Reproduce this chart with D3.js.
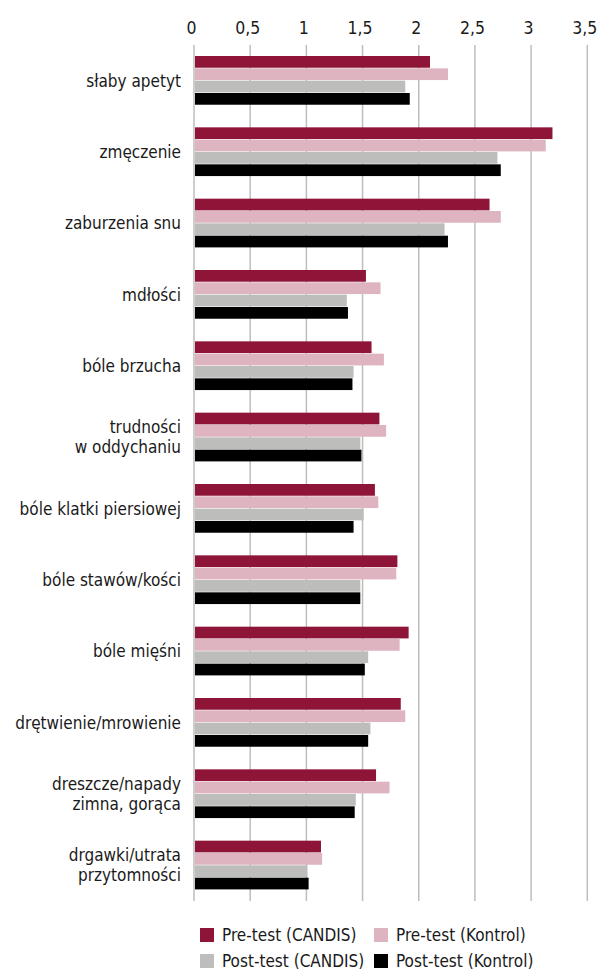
<!DOCTYPE html>
<html><head><meta charset="utf-8">
<script src="https://cdn.jsdelivr.net/npm/d3@7"></script>
<style>
html,body{margin:0;padding:0;background:#fff;}
svg text{font-family:"Liberation Sans Narrow","DejaVu Sans Condensed",sans-serif;fill:#1a1a1a;}
</style></head>
<body>
<script>
const categories = [
  ["słaby apetyt"],
  ["zmęczenie"],
  ["zaburzenia snu"],
  ["mdłości"],
  ["bóle brzucha"],
  ["trudności","w oddychaniu"],
  ["bóle klatki piersiowej"],
  ["bóle stawów/kości"],
  ["bóle mięśni"],
  ["drętwienie/mrowienie"],
  ["dreszcze/napady","zimna, gorąca"],
  ["drgawki/utrata","przytomności"]
];
const seriesNames = ["Pre-test (CANDIS)","Pre-test (Kontrol)","Post-test (CANDIS)","Post-test (Kontrol)"];
const seriesColors = ["#8E1538","#DDB4BF","#BDBDBB","#000000"];
const preCandis   = [2.10,3.19,2.63,1.53,1.58,1.65,1.61,1.81,1.91,1.84,1.62,1.13];
const preKontrol  = [2.26,3.13,2.73,1.66,1.69,1.71,1.64,1.80,1.83,1.88,1.74,1.14];
const postCandis  = [1.88,2.70,2.23,1.36,1.42,1.48,1.51,1.48,1.55,1.57,1.44,1.01];
const postKontrol = [1.92,2.73,2.26,1.37,1.41,1.49,1.42,1.48,1.52,1.55,1.43,1.02];
const tickValues = [0,0.5,1,1.5,2,2.5,3,3.5];
const tickLabels = ["0","0,5","1","1,5","2","2,5","3","3,5"];

const series = [preCandis, preKontrol, postCandis, postKontrol];
const W = 599, H = 975;
const svg = d3.select("body").append("svg").attr("width", W).attr("height", H);

const x = d3.scaleLinear().domain([0,3.5]).range([194, 587.3]);
const y = d3.scaleBand().domain(d3.range(categories.length)).range([45, 901]).paddingInner(22/71.3).paddingOuter(11/71.3);
const yi = d3.scaleBand().domain(d3.range(4)).range([0, y.bandwidth()]);

// grid
svg.append("g").selectAll("line").data(tickValues).join("line")
  .attr("x1", d => x(d)).attr("x2", d => x(d))
  .attr("y1", 45).attr("y2", 901)
  .attr("stroke", "#BDBDBD").attr("stroke-width", 1.5);

// top axis labels
const axis = d3.axisTop(x).tickValues(tickValues).tickFormat((d,i) => tickLabels[i]).tickSize(0).tickPadding(0);
const ag = svg.append("g").attr("transform", "translate(-3,34)").call(axis);
ag.select(".domain").remove();
ag.selectAll("text").attr("font-size", 17.5).attr("fill", "#1a1a1a")
  .style("font-family", '"Liberation Sans Narrow","DejaVu Sans Condensed",sans-serif');

// bars
const groups = svg.append("g").selectAll("g").data(categories).join("g")
  .attr("transform", (d,i) => `translate(0,${y(i)})`);
groups.selectAll("rect").data((d,i) => series.map((s,j) => ({v: s[i], j}))).join("rect")
  .attr("x", x(0) + 1)
  .attr("y", d => yi(d.j))
  .attr("width", d => x(d.v) - x(0) - 1)
  .attr("height", yi.bandwidth() - 0.6)
  .attr("fill", d => seriesColors[d.j]);

// category labels
groups.each(function(d,i){
  const g = d3.select(this);
  const c = y.bandwidth()/2;
  const lh = 20;
  const n = d.length;
  d.forEach((line, k) => {
    g.append("text").attr("x", 181).attr("y", c + (k - (n-1)/2)*lh)
      .attr("dy", "0.35em").attr("text-anchor", "end").attr("font-size", 17).text(line);
  });
});

// legend
const legendPos = [[200,935],[374,935],[200,961],[374,961]];
const lg = svg.append("g").selectAll("g").data(seriesNames).join("g")
  .attr("transform", (d,i) => `translate(${legendPos[i][0]},${legendPos[i][1]})`);
lg.append("rect").attr("x", 0).attr("y", -7).attr("width", 14).attr("height", 14)
  .attr("fill", (d,i) => seriesColors[i]);
lg.append("text").attr("x", 22).attr("y", 0).attr("dy", "0.35em").attr("font-size", 17).text(d => d);
</script>
</body></html>
